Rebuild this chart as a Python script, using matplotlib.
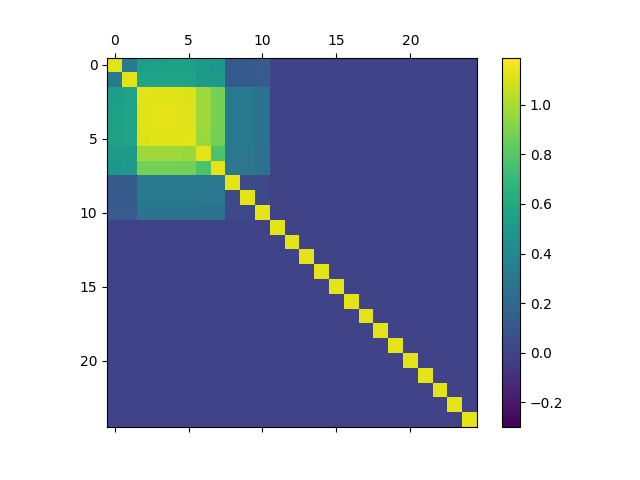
import numpy as np
import matplotlib
matplotlib.use("Agg")
import matplotlib.pyplot as plt

# upper-left 11x11 block of the matrix
block = [
    [1.13, 0.32, 0.53, 0.54, 0.55, 0.55, 0.50, 0.49, 0.12, 0.12, 0.13],
    [0.32, 1.13, 0.56, 0.57, 0.57, 0.56, 0.51, 0.50, 0.12, 0.12, 0.13],
    [0.53, 0.56, 1.13, 1.12, 1.12, 1.11, 0.97, 0.88, 0.30, 0.30, 0.27],
    [0.54, 0.57, 1.12, 1.13, 1.13, 1.12, 0.97, 0.88, 0.30, 0.30, 0.27],
    [0.55, 0.57, 1.12, 1.13, 1.13, 1.12, 0.97, 0.88, 0.30, 0.30, 0.27],
    [0.55, 0.56, 1.11, 1.12, 1.12, 1.13, 0.96, 0.88, 0.30, 0.30, 0.27],
    [0.50, 0.51, 0.97, 0.97, 0.97, 0.96, 1.13, 0.77, 0.29, 0.29, 0.26],
    [0.49, 0.50, 0.88, 0.88, 0.88, 0.88, 0.77, 1.13, 0.29, 0.29, 0.26],
    [0.12, 0.12, 0.30, 0.30, 0.30, 0.30, 0.29, 0.29, 1.13, 0.03, 0.03],
    [0.12, 0.12, 0.30, 0.30, 0.30, 0.30, 0.29, 0.29, 0.03, 1.13, 0.03],
    [0.13, 0.13, 0.27, 0.27, 0.27, 0.27, 0.26, 0.26, 0.03, 0.03, 1.13],
]
n = 25
diag_value = 1.13
background = 0.0

mat = np.full((n, n), background)
np.fill_diagonal(mat, diag_value)
b = np.array(block)
mat[:b.shape[0], :b.shape[1]] = b

fig, ax = plt.subplots()
im = ax.matshow(mat, cmap="viridis", vmin=-0.3, vmax=1.19)
fig.colorbar(im)
plt.savefig("out.png")
